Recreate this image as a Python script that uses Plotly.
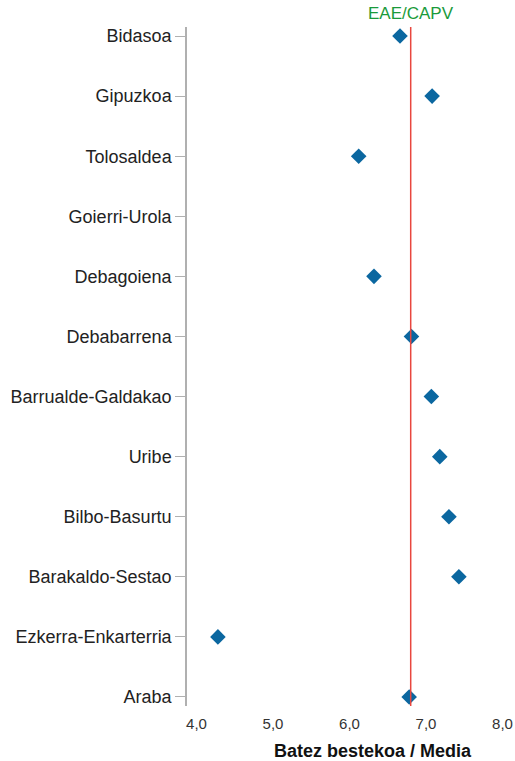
import plotly.graph_objects as go

# Regions, top to bottom as shown
regions = ["Bidasoa", "Gipuzkoa", "Tolosaldea", "Goierri-Urola", "Debagoiena",
           "Debabarrena", "Barrualde-Galdakao", "Uribe", "Bilbo-Basurtu",
           "Barakaldo-Sestao", "Ezkerra-Enkarterria", "Araba"]
means = [6.66, 7.08, 6.12, None, 6.32, 6.81, 7.07, 7.18, 7.30, 7.43, 4.28, 6.78]
overall_mean = 6.80
overall_label = "EAE/CAPV"
x_ticks = [4, 5, 6, 7, 8]
x_tick_text = ["4,0", "5,0", "6,0", "7,0", "8,0"]

n = len(regions)
ypos = [n - 1 - i for i in range(n)]

fig = go.Figure()
fig.add_trace(go.Scatter(
    x=means, y=ypos, mode="markers",
    marker=dict(symbol="diamond", size=12, color="#0b67a0"),
    hoverinfo="x", showlegend=False,
))

fig.add_shape(type="line", xref="x", yref="paper",
              x0=overall_mean, x1=overall_mean, y0=0, y1=1,
              line=dict(color="#e8473f", width=1.5))
fig.add_annotation(x=overall_mean, xref="x", y=1, yref="paper",
                   yanchor="bottom", yshift=2, text=overall_label, showarrow=False,
                   font=dict(family="Liberation Sans, Arial", size=17, color="#1a9a3a"))

# axis title, set below the plot area
fig.add_annotation(x=(373 - 187) / (510 - 187), xref="paper", y=0, yref="paper",
                   xanchor="center", yanchor="middle", yshift=-45,
                   showarrow=False, text="<b>Batez bestekoa / Media</b>",
                   font=dict(family="Liberation Sans, Arial", size=18, color="#111"))

fig.update_layout(
    width=515, height=761,
    margin=dict(l=187, r=5, t=27, b=55, autoexpand=False),
    paper_bgcolor="white", plot_bgcolor="white",
    font=dict(family="Liberation Sans, Arial", size=14, color="#222"),
    xaxis=dict(range=[3.876, 8.098], tickvals=x_ticks, ticktext=x_tick_text,
               showgrid=False, zeroline=False, showline=False, ticks="",
               ticklabelstandoff=7, automargin=False,
               tickfont=dict(size=15, color="#333"), fixedrange=True),
    yaxis=dict(range=[-0.15, n - 1 + 0.15], tickvals=ypos, ticktext=regions,
               showgrid=False, zeroline=False, showline=True,
               linecolor="#b0b0b0", linewidth=1.5,
               ticks="outside", ticklen=10, tickcolor="#b0b0b0", tickwidth=1,
               automargin=False,
               tickfont=dict(size=18, color="#222"), fixedrange=True),
)

fig.write_html("out.html")
